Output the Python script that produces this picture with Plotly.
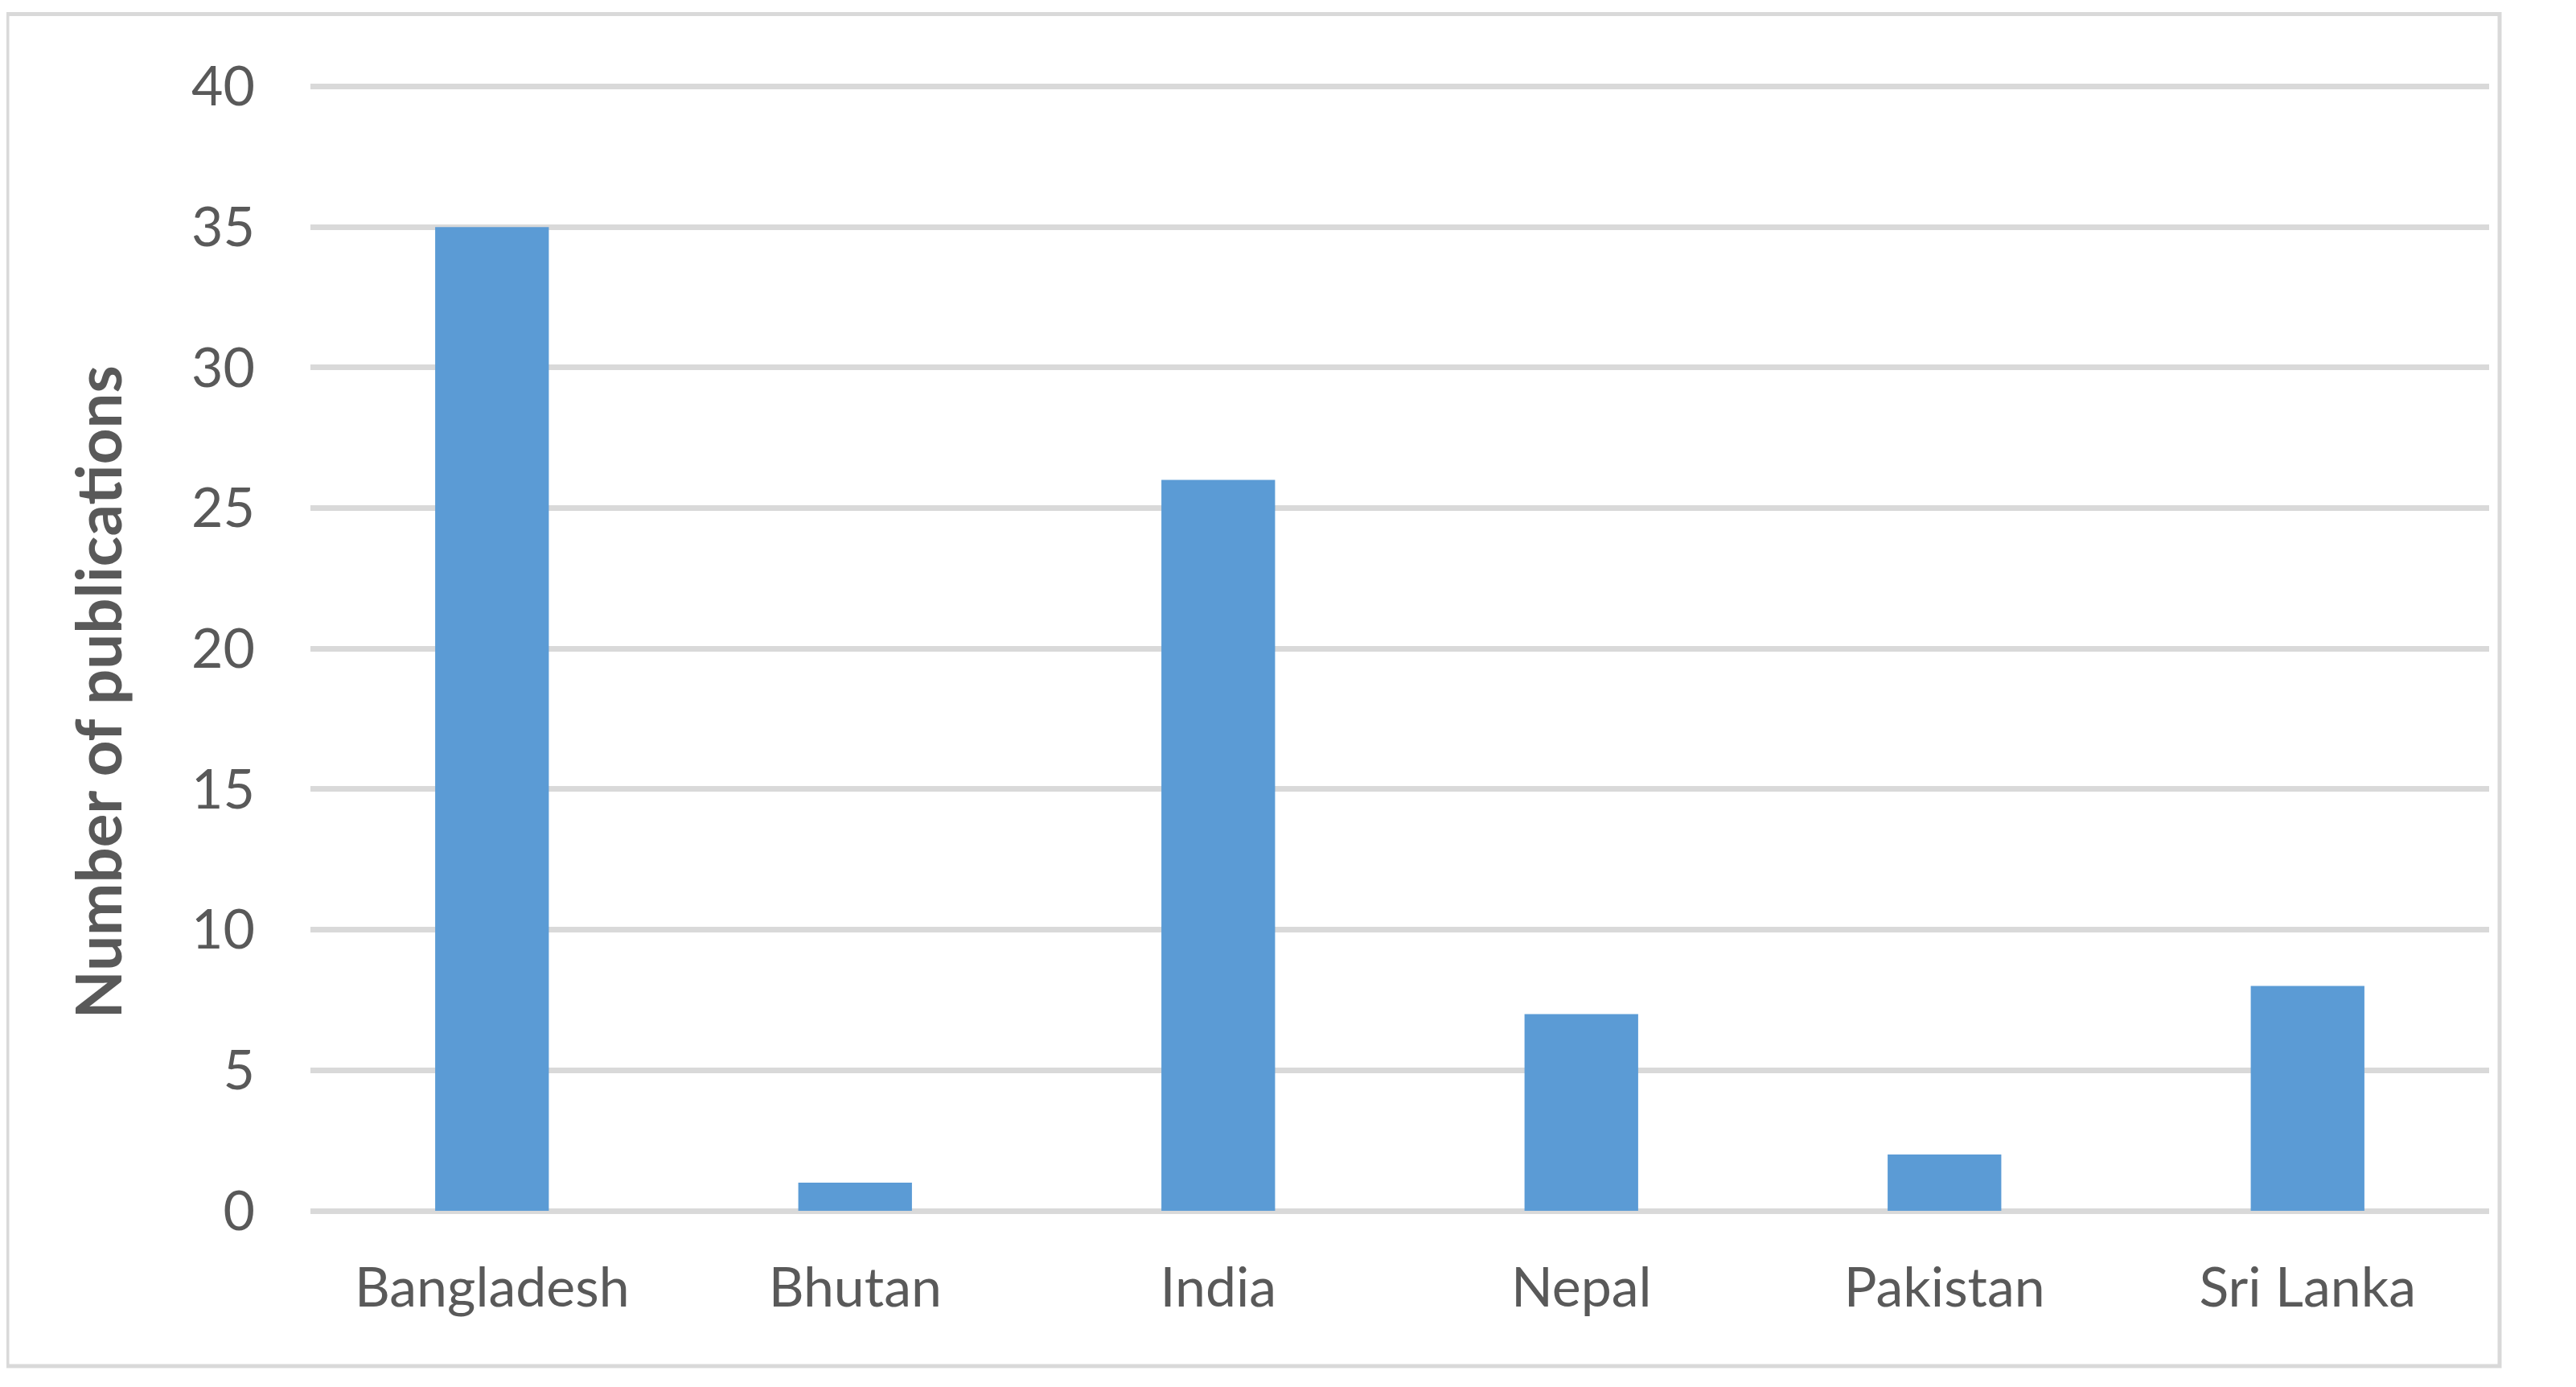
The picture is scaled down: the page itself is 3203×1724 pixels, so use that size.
import plotly.graph_objects as go

countries = ["Bangladesh", "Bhutan", "India", "Nepal", "Pakistan", "Sri Lanka"]
publications = [35, 1, 26, 7, 2, 8]
y_ticks = [0, 5, 10, 15, 20, 25, 30, 35, 40]
y_title = "Number of publications"

TEXT = "#595959"
GRID = "#d9d9d9"
FONT = "Lato"

# page body has an 8px default margin, so the figure is sized to fill the rest
OFF = 8
W, H = 3203 - OFF, 1724 - OFF
L, R, B = 386 - OFF, 108, 219
ymax = 40.1
plot_h = 1398 * ymax / 40
T = H - B - plot_h
pw, ph = W - L - R, H - T - B


def px(xp):  # page x -> paper fraction
    return (xp - OFF - L) / pw


def py(yp):  # page y -> paper fraction
    return (H - B - (yp - OFF)) / ph


fig = go.Figure(
    go.Bar(
        x=countries,
        y=publications,
        marker=dict(color="#5b9bd5", line=dict(width=0)),
    )
)

fig.update_layout(
    width=W,
    height=H,
    margin=dict(l=L, r=R, t=T, b=B, pad=0, autoexpand=False),
    paper_bgcolor="white",
    plot_bgcolor="white",
    bargap=0.687,
    showlegend=False,
    font=dict(family=FONT, color=TEXT, size=68),
)

fig.update_xaxes(
    showgrid=False,
    showline=False,
    ticks="",
    tickfont=dict(family=FONT, size=68, color=TEXT),
    ticklabelstandoff=50,
)

fig.update_yaxes(
    range=[0, ymax],
    tickvals=y_ticks,
    showgrid=True,
    gridcolor=GRID,
    gridwidth=7,
    zeroline=True,
    zerolinecolor=GRID,
    zerolinewidth=7,
    showline=False,
    ticks="",
    tickfont=dict(family=FONT, size=68, color=TEXT),
    ticklabelstandoff=68,
)

# y-axis title (placed like the original, slightly below the plot centre)
fig.add_annotation(
    text="<b>" + y_title + "</b>",
    textangle=-90,
    xref="paper", yref="paper",
    x=px(121), y=py(860),
    xanchor="center", yanchor="middle",
    showarrow=False,
    font=dict(family=FONT, size=78, color=TEXT),
)

# outer chart border
fig.add_shape(
    type="rect",
    xref="paper", yref="paper",
    x0=px(9), x1=px(3108),
    y0=py(1698), y1=py(17),
    line=dict(color=GRID, width=5),
    fillcolor="rgba(0,0,0,0)",
    layer="below",
)

fig.write_html("out.html")
